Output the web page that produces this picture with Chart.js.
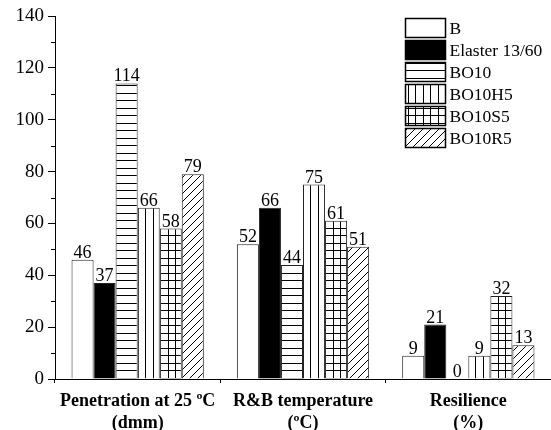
<!DOCTYPE html>
<html><head><meta charset="utf-8">
<script src="https://cdn.jsdelivr.net/npm/chart.js@4"></script>
<style>html,body{margin:0;padding:0;background:#fff}#wrap{width:551px;height:430px;position:relative}</style>
</head><body><div id="wrap"><canvas id="c"></canvas></div>
<script>
// ---- data ----
const categories = [["Penetration at 25 ºC","(dmm)"],["R&B temperature","(ºC)"],["Resilience","(%)"]];
const seriesNames = ["B","Elaster 13/60","BO10","BO10H5","BO10S5","BO10R5"];
const valB      = [46, 52, 9];
const valElaster= [37, 66, 21];
const valBO10   = [114, 44, 0];
const valBO10H5 = [66, 75, 9];
const valBO10S5 = [58, 61, 32];
const valBO10R5 = [79, 51, 13];
const yMin = 0, yMax = 140, yMajorStep = 20, yMinorStep = 10;

// ---- patterns ----
function makePattern(kind){
  const s = kind === 'diag' ? 8 : 15;
  const c = document.createElement('canvas'); c.width = s; c.height = s;
  const g = c.getContext('2d');
  g.fillStyle = '#fff'; g.fillRect(0,0,s,s);
  g.strokeStyle = '#000'; g.lineWidth = 1;
  g.beginPath();
  if (kind === 'h' || kind === 'grid'){ g.moveTo(0,3.5); g.lineTo(s,3.5); g.moveTo(0,10.5); g.lineTo(s,10.5); }
  if (kind === 'v' || kind === 'grid'){ g.moveTo(3.5,0); g.lineTo(3.5,s); g.moveTo(10.5,0); g.lineTo(10.5,s); }
  if (kind === 'diag'){ g.moveTo(0,s); g.lineTo(s,0); g.moveTo(-1,1); g.lineTo(1,-1); g.moveTo(s-1,s+1); g.lineTo(s+1,s-1); }
  g.stroke();
  return g.createPattern(c,'repeat');
}
const ctx0 = document.getElementById('c').getContext('2d');
const fills = ['#ffffff', '#000000', makePattern('h'), makePattern('v'), makePattern('grid'), makePattern('diag')];
const seriesValues = [valB, valElaster, valBO10, valBO10H5, valBO10S5, valBO10R5];

const FONT = '"Liberation Serif","Times New Roman",serif';
Chart.defaults.font.family = FONT;
Chart.defaults.font.size = 17;
Chart.defaults.color = '#000';

const datasets = seriesNames.map((n,i)=>({
  label: n, data: seriesValues[i], backgroundColor: fills[i],
  borderColor: '#222', borderWidth: 1, barPercentage: 1, categoryPercentage: 0.8
}));

const valueLabels = {
  id: 'valueLabels',
  afterDatasetsDraw(chart){
    const c = chart.ctx; c.save();
    c.font = '18px ' + FONT; c.fillStyle = '#000'; c.textAlign = 'center'; c.textBaseline = 'alphabetic';
    chart.data.datasets.forEach((d,di)=>{
      chart.getDatasetMeta(di).data.forEach((el,i)=>{
        c.fillText(String(d.data[i]), el.x, el.y - 2);
      });
    });
    c.restore();
  }
};
const minorTicks = {
  id: 'minorTicks',
  afterDraw(chart){
    const y = chart.scales.y, c = chart.ctx; c.save();
    c.strokeStyle = '#000'; c.lineWidth = 1; c.beginPath();
    for (let v = yMin + yMinorStep; v < yMax; v += yMajorStep){
      const p = Math.round(y.getPixelForValue(v)) + 0.5;
      c.moveTo(y.right - 4, p); c.lineTo(y.right, p);
    }
    c.stroke(); c.restore();
  }
};
const customLegend = {
  id: 'customLegend',
  afterDraw(chart){
    const c = chart.ctx; c.save();
    const x0 = 405.5, y0 = 18.5, bw = 40, bh = 19, step = 22;
    c.font = '17.5px ' + FONT; c.textBaseline = 'middle'; c.textAlign = 'left';
    chart.data.datasets.forEach((d,i)=>{
      const y = y0 + i*step;
      c.fillStyle = d.backgroundColor; c.fillRect(x0, y, bw, bh);
      c.strokeStyle = '#000'; c.lineWidth = 1.5; c.strokeRect(x0, y, bw, bh);
      c.fillStyle = '#000'; c.fillText(d.label, x0 + bw + 4, y + bh/2 + 1);
    });
    c.restore();
  }
};

new Chart(ctx0, {
  type: 'bar',
  data: { labels: categories, datasets },
  options: {
    responsive: true, maintainAspectRatio: false, animation: false,
    layout: { padding: { top: 16, left: 0, right: 0, bottom: 0 } },
    plugins: { legend: { display: false }, tooltip: { enabled: false } },
    scales: {
      x: {
        grid: { offset: true, drawOnChartArea: false, tickLength: 4, color: '#000' },
        border: { display: true, color: '#000', width: 1 },
        ticks: { font: { size: 18, weight: 'bold', lineHeight: 1.2 }, padding: 8, maxRotation: 0 },
        afterFit(s){ s.height = 51; }
      },
      y: {
        min: yMin, max: yMax,
        grid: { drawOnChartArea: false, tickLength: 7, color: '#000' },
        border: { display: true, color: '#000', width: 1 },
        ticks: { stepSize: yMajorStep, font: { size: 19 }, padding: 4 },
        afterFit(s){ s.width = 55; }
      }
    }
  },
  plugins: [valueLabels, minorTicks, customLegend]
});
</script>
</body></html>
